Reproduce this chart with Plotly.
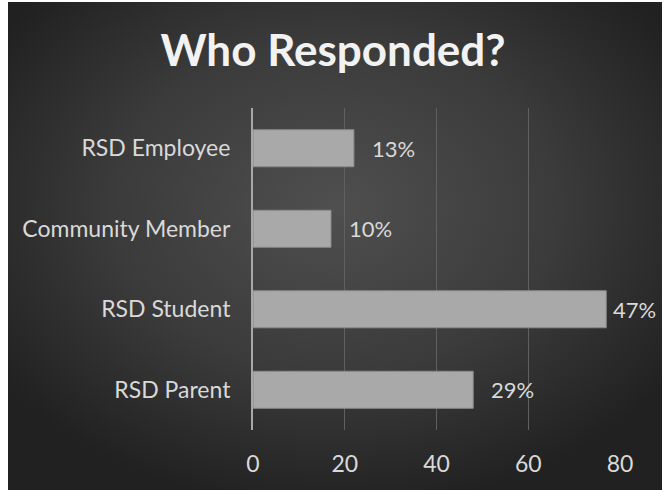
import base64
import plotly.graph_objects as go

categories = ["RSD Parent", "RSD Student", "Community Member", "RSD Employee"]
counts = [48, 77, 17, 22]
pct_labels = ["29%", "47%", "10%", "13%"]
x_ticks = [0, 20, 40, 60, 80]

W, H = 666, 490
ML, MR, MT, MB = 253, 46, 108, 60
pw, ph = W - ML - MR, H - MT - MB

svg = '''<svg xmlns="http://www.w3.org/2000/svg" width="654" height="488" viewBox="0 0 654 488">
<defs><radialGradient id="g" cx="0.5" cy="0.42" r="0.62">
<stop offset="0" stop-color="#4f4f4f"/>
<stop offset="0.55" stop-color="#3b3b3b"/>
<stop offset="1" stop-color="#212121"/>
</radialGradient></defs>
<rect width="654" height="488" fill="url(#g)"/></svg>'''
src = "data:image/svg+xml;base64," + base64.b64encode(svg.encode()).decode()

fig = go.Figure()
fig.add_trace(go.Bar(
    y=categories, x=counts, orientation="h",
    marker=dict(color="#a9a9a9", line=dict(color="#8a8a8a", width=1)),
    width=0.46, hoverinfo="skip",
))

for c, v, t in zip(categories, counts, pct_labels):
    fig.add_annotation(x=v, y=c, text=t, showarrow=False, xanchor="left",
                       xshift=5 if v > 70 else 16,
                       font=dict(family="Lato", size=22, color="#d9d9d9"))

fig.add_layout_image(dict(
    source=src, xref="paper", yref="paper",
    x=(8 - ML) / pw, y=(H - MB - 2) / ph,
    sizex=654 / pw, sizey=488 / ph,
    sizing="stretch", xanchor="left", yanchor="top", layer="below",
))

fig.update_layout(
    width=W, height=H,
    margin=dict(l=ML, r=MR, t=MT, b=MB, pad=0),
    paper_bgcolor="#ffffff", plot_bgcolor="rgba(0,0,0,0)",
    showlegend=False,
    title=dict(text="<b>Who Responded?</b>", x=0.5, xref="container", xanchor="center",
               y=(H - 51) / H, yanchor="middle",
               font=dict(family="Lato", size=44, color="#f2f2f2")),
    font=dict(family="Lato", size=23, color="#d9d9d9"),
    xaxis=dict(range=[0, 80], tickvals=x_ticks, showgrid=True,
               gridcolor="#606060", gridwidth=1, zeroline=False,
               showline=False, ticks="", ticklabelstandoff=18,
               tickfont=dict(family="Lato", size=23, color="#d9d9d9")),
    yaxis=dict(categoryorder="array", categoryarray=categories,
               showline=True, linecolor="#a8a8a8", linewidth=2,
               showgrid=False, ticks="", ticklabelstandoff=16,
               tickfont=dict(family="Lato", size=23, color="#d9d9d9")),
)

fig.write_html("out.html", config={"displayModeBar": False},
               post_script="document.body.style.margin='0';")
